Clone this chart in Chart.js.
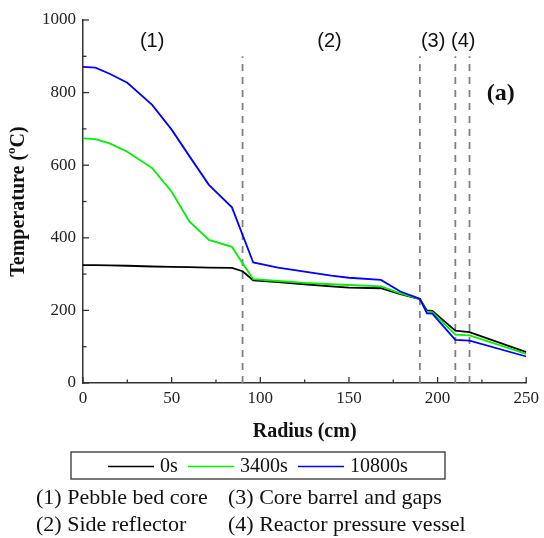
<!DOCTYPE html>
<html>
<head>
<meta charset="utf-8">
<script src="https://cdn.jsdelivr.net/npm/chart.js@4"></script>
<style>
  html, body { margin: 0; padding: 0; background: #fff; }
  #wrap { width: 544px; height: 538px; }
</style>
</head>
<body>
<div id="wrap"><canvas id="tempChart" width="544" height="538"></canvas></div>
<script>
// radius points (cm)
const radius = [0, 7, 15, 25, 39, 50, 60, 71, 84, 90, 96, 110, 125, 140, 150, 168, 179, 190, 194, 197, 210, 218, 250];
// temperatures (C)
const temp0s = [325, 325, 324, 323, 321, 320, 319, 318, 317, 308, 283, 278, 272, 266, 263, 261, 245, 231, 200, 199, 144, 140, 85];
const temp3400s = [674, 672, 660, 637, 592, 527, 445, 394, 375, 330, 286, 281, 276, 272, 270, 266, 247, 231, 195, 195, 133, 131, 80];
const temp10800s = [871, 869, 852, 827, 766, 698, 625, 546, 484, 408, 332, 318, 307, 296, 290, 284, 252, 232, 192, 191, 119, 117, 73];

const seriesNames = ["0s", "3400s", "10800s"];
const seriesColors = ["#000000", "#00f000", "#0000ff"];

// region boundaries and labels
const boundaries = [90, 190, 210, 218];
const boundaryTop = 900;
const regionLabels = ["(1)", "(2)", "(3)", "(4)"];
const regionLabelR = [39, 139, 197.5, 214.5];
const regionLabelT = [942, 942, 942, 942];
const notes = [
  ["(1) Pebble bed core", "(3) Core barrel and gaps"],
  ["(2) Side reflector", "(4) Reactor pressure vessel"]
];

const xTicks = [0, 50, 100, 150, 200, 250];
const yTicks = [0, 200, 400, 600, 800, 1000];

function toPoints(xs, ys) {
  return xs.map((x, i) => ({ x: x, y: ys[i] }));
}

var datasets = [];
var allTemps = [temp0s, temp3400s, temp10800s];
for (let i = 0; i < allTemps.length; i++) {
  datasets.push({
    label: seriesNames[i],
    data: toPoints(radius, allTemps[i]),
    borderColor: seriesColors[i],
    borderWidth: 1.8,
    pointRadius: 0,
    tension: 0,
    order: 3 - i,
  });
}
boundaries.forEach((b) => {
  datasets.push({
    label: "boundary",
    data: [{ x: b, y: 0 }, { x: b, y: boundaryTop }],
    borderColor: "#808080",
    borderWidth: 1.8,
    borderDash: [7, 6],
    pointRadius: 0,
    order: 5,
  });
});

const serif = "'Liberation Serif', 'Times New Roman', serif";
const sans = "'Liberation Sans', Arial, sans-serif";

const extras = {
  id: "extras",
  afterDraw(chart) {
    const ctx = chart.ctx;
    const xs = chart.scales.x;
    const ys = chart.scales.y;
    const area = chart.chartArea;
    ctx.save();

    // inward ticks
    ctx.strokeStyle = "#333";
    ctx.lineWidth = 1.3;
    for (let v = 0; v <= 250; v += 25) {
      const px = xs.getPixelForValue(v);
      const len = v % 50 === 0 ? 6 : 3.5;
      ctx.beginPath();
      ctx.moveTo(px, area.bottom);
      ctx.lineTo(px, area.bottom - len);
      ctx.stroke();
    }
    for (let v = 0; v <= 1000; v += 100) {
      const py = ys.getPixelForValue(v);
      const len = v % 200 === 0 ? 6 : 3.5;
      ctx.beginPath();
      ctx.moveTo(area.left, py);
      ctx.lineTo(area.left + len, py);
      ctx.stroke();
    }

    // y title with superscript o
    ctx.fillStyle = "#111";
    ctx.translate(19, (area.top + area.bottom) / 2);
    ctx.rotate(-Math.PI / 2);
    ctx.textBaseline = "middle";
    const big = "bold 20px " + serif;
    const small = "bold 13px " + serif;
    ctx.font = big;
    const p1 = "Temperature (";
    const p3 = "C)";
    const w1 = ctx.measureText(p1).width;
    const w3 = ctx.measureText(p3).width;
    ctx.font = small;
    const w2 = ctx.measureText("o").width;
    let sx = -(w1 + w2 + w3) / 2;
    ctx.font = big;
    ctx.textAlign = "left";
    ctx.fillText(p1, sx, 0);
    ctx.font = small;
    ctx.fillText("o", sx + w1, -7);
    ctx.font = big;
    ctx.fillText(p3, sx + w1 + w2, 0);
    ctx.setTransform(1, 0, 0, 1, 0, 0);

    // region labels
    ctx.font = "20px " + sans;
    ctx.textAlign = "center";
    ctx.textBaseline = "middle";
    ctx.fillStyle = "#111";
    regionLabels.forEach((t, i) => {
      ctx.fillText(t, xs.getPixelForValue(regionLabelR[i]), ys.getPixelForValue(regionLabelT[i]));
    });
    ctx.font = "bold 24px " + serif;
    ctx.fillText("(a)", xs.getPixelForValue(235.6), ys.getPixelForValue(797));

    // legend box
    ctx.strokeStyle = "#333";
    ctx.lineWidth = 1.3;
    ctx.strokeRect(71, 452, 374, 27);
    const legX = [108, 188, 298];
    ctx.font = "20px " + serif;
    ctx.textAlign = "left";
    for (let i = 0; i < 3; i++) {
      ctx.strokeStyle = seriesColors[i];
      ctx.lineWidth = 1.6;
      ctx.beginPath();
      ctx.moveTo(legX[i], 466.5);
      ctx.lineTo(legX[i] + 46, 466.5);
      ctx.stroke();
      ctx.fillStyle = "#111";
      ctx.fillText(seriesNames[i], legX[i] + 52, 467);
    }

    // notes
    ctx.font = "22px " + serif;
    const noteX = [36, 228];
    const noteY = [498, 525.5];
    for (let r = 0; r < notes.length; r++) {
      for (let c = 0; c < notes[r].length; c++) {
        ctx.fillText(notes[r][c], noteX[c], noteY[r]);
      }
    }
    ctx.restore();
  },
};

var ctx = document.getElementById("tempChart");
var tempChart = new Chart(ctx, {
  type: "line",
  data: { datasets: datasets },
  options: {
    responsive: false,
    animation: false,
    layout: { padding: { left: 0, right: 13, top: 20, bottom: 94 } },
    plugins: {
      legend: { display: false },
      tooltip: { enabled: false },
    },
    scales: {
      x: {
        type: "linear",
        min: 0,
        max: 250,
        afterFit: (scale) => { scale.height = 61; },
        afterBuildTicks: (scale) => { scale.ticks = xTicks.map((v) => ({ value: v })); },
        grid: { display: false, drawTicks: false },
        border: { display: true, color: "#333", width: 1.5 },
        ticks: {
          padding: 5,
          color: "#222",
          font: { family: serif, size: 17 },
          maxRotation: 0,
          callback: (v) => String(v),
        },
        title: {
          display: true,
          text: "Radius (cm)",
          color: "#111",
          padding: 0,
          font: { family: serif, size: 20, weight: "bold" },
        },
      },
      y: {
        min: 0,
        max: 1000,
        afterFit: (scale) => { scale.width = 83; },
        afterBuildTicks: (scale) => { scale.ticks = yTicks.map((v) => ({ value: v })); },
        grid: { display: false, drawTicks: false },
        border: { display: true, color: "#333", width: 1.5 },
        ticks: {
          padding: 7,
          color: "#222",
          font: { family: serif, size: 17 },
          callback: (v) => String(v),
        },
      },
    },
  },
  plugins: [extras],
});
</script>
</body>
</html>
